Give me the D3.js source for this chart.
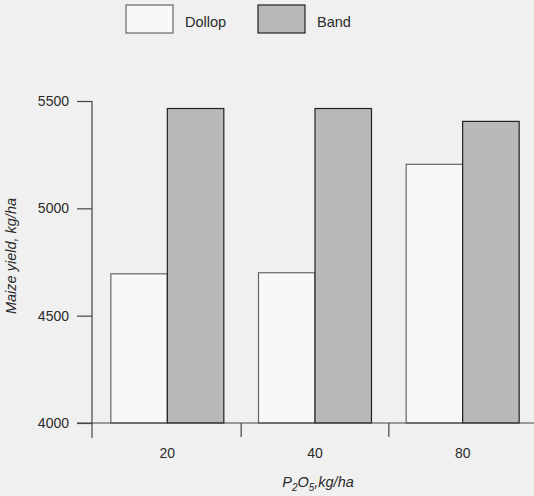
<!DOCTYPE html>
<html>
<head>
  <meta charset="UTF-8">
  <style>
    body {
      margin: 0;
      background: #f0f0f0;
      font-family: "Liberation Sans", Arial, sans-serif;
    }
    svg text {
      fill: #2a2a2a;
    }
  </style>
</head>
<body>
  <svg width="534" height="496"></svg>
  <script src="https://d3js.org/d3.v7.min.js"></script>
  <script>
    // data
    let rates = ["20", "40", "80"];
    let methods = ["Dollop", "Band"];
    let dollop = [4695, 4700, 5205];
    let band = [5465, 5465, 5405];
    let yTicks = [4000, 4500, 5000, 5500];

    let colors = { Dollop: "#f8f8f8", Band: "#b9b9b9" };
    let strokes = { Dollop: "#666", Band: "#222" };

    let rows = rates.map((r, i) => ({ rate: r, Dollop: dollop[i], Band: band[i] }));

    let svg = d3.select("svg");

    let axisX = 92, baseY = 423;

    let x0 = d3.scaleBand()
        .domain(rates)
        .range([93.5, 536.5])
        .paddingInner(0)
        .paddingOuter(0);

    let x1 = d3.scaleBand()
        .domain(methods)
        .range([0, x0.bandwidth()])
        .paddingInner(0)
        .paddingOuter(0.307);

    let y = d3.scaleLinear()
        .domain([4000, 5500])
        .range([baseY, 101]);

    // bars
    let groups = svg.append("g")
        .selectAll("g")
        .data(rows)
        .enter()
        .append("g")
        .attr("transform", d => `translate(${x0(d.rate)},0)`);

    groups.selectAll("rect")
        .data(d => methods.map(m => ({ key: m, value: d[m] })))
        .enter()
        .append("rect")
        .attr("x", d => x1(d.key))
        .attr("y", d => y(d.value))
        .attr("width", x1.bandwidth())
        .attr("height", d => baseY - y(d.value))
        .attr("fill", d => colors[d.key])
        .attr("stroke", d => strokes[d.key])
        .attr("stroke-width", 1.2);

    // x axis line and boundary ticks
    svg.append("line")
        .attr("x1", 77).attr("x2", 534)
        .attr("y1", baseY).attr("y2", baseY)
        .attr("stroke", "#444").attr("stroke-width", 1.2);

    svg.append("g")
        .selectAll("line")
        .data(rates.slice(1))
        .enter()
        .append("line")
        .attr("x1", d => x0(d)).attr("x2", d => x0(d))
        .attr("y1", baseY).attr("y2", baseY + 14)
        .attr("stroke", "#444").attr("stroke-width", 1.2);

    let xAxis = svg.append("g")
        .attr("transform", `translate(0,${baseY})`)
        .call(d3.axisBottom(x0).tickSize(0).tickPadding(25));
    xAxis.select(".domain").remove();
    xAxis.selectAll("text")
        .style("font-size", "14px")
        .style("font-family", "'Liberation Sans', Arial, sans-serif");

    // y axis
    svg.append("line")
        .attr("x1", axisX).attr("x2", axisX)
        .attr("y1", y(5500)).attr("y2", 438)
        .attr("stroke", "#444").attr("stroke-width", 1.2);

    let yAxis = svg.append("g")
        .attr("transform", `translate(${axisX},0)`)
        .call(d3.axisLeft(y).tickValues(yTicks).tickSize(15).tickPadding(8).tickFormat(d3.format("d")));
    yAxis.select(".domain").remove();
    yAxis.selectAll("line").attr("stroke", "#444").attr("stroke-width", 1.2);
    yAxis.selectAll("text")
        .style("font-size", "14px")
        .style("font-family", "'Liberation Sans', Arial, sans-serif");

    // axis titles
    svg.append("text")
        .attr("transform", "translate(15.5,256) rotate(-90)")
        .attr("text-anchor", "middle")
        .style("font-size", "14.5px")
        .style("font-style", "italic")
        .text("Maize yield, kg/ha");

    let xt = svg.append("text")
        .attr("x", 318)
        .attr("y", 487)
        .attr("text-anchor", "middle")
        .style("font-size", "14.5px")
        .style("font-style", "italic");
    xt.append("tspan").text("P");
    xt.append("tspan").attr("dy", 4).style("font-size", "10px").text("2");
    xt.append("tspan").attr("dy", -4).text("O");
    xt.append("tspan").attr("dy", 4).style("font-size", "10px").text("5");
    xt.append("tspan").attr("dy", -4).text(",kg/ha");

    // legend
    let legend = svg.append("g")
        .selectAll("g")
        .data(methods)
        .enter()
        .append("g")
        .attr("transform", (d, i) => `translate(${126 + i * 132},5)`);

    legend.append("rect")
        .attr("width", 47)
        .attr("height", 28)
        .attr("fill", d => colors[d])
        .attr("stroke", d => strokes[d])
        .attr("stroke-width", 1.2);

    legend.append("text")
        .attr("x", 59)
        .attr("y", 22)
        .style("font-size", "14.5px")
        .text(d => d);
  </script>
</body>
</html>
